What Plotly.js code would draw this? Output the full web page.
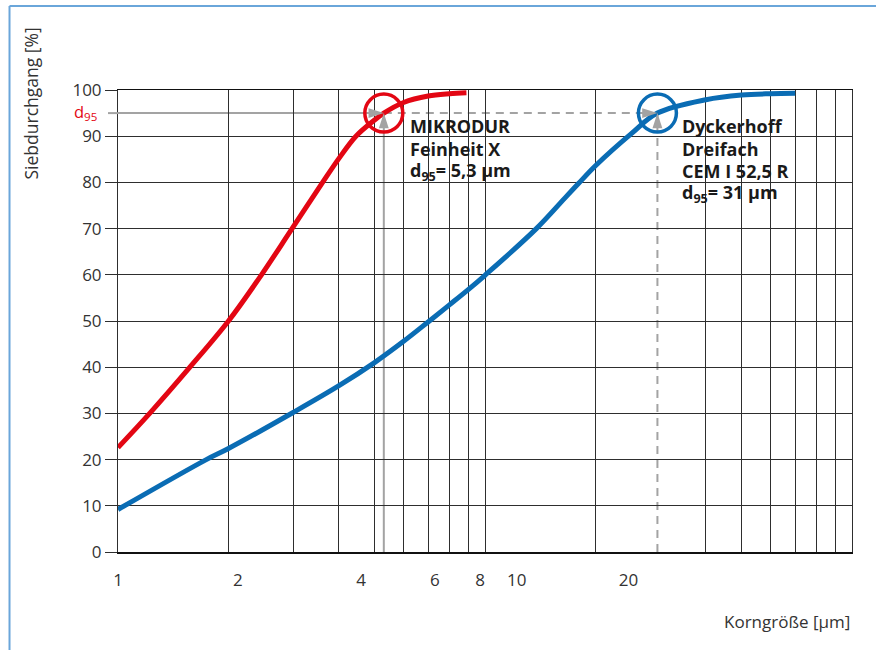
<!DOCTYPE html>
<html>
<head>
<meta charset="utf-8">
<script src="https://cdn.plot.ly/plotly-3.0.1.min.js"></script>
<style>html,body{margin:0;padding:0;background:#fff;}#chart{width:876px;height:650px;}</style>
</head>
<body>
<div id="chart"></div>
<script>
// Korngrößenverteilung (Siebdurchgang über Korngröße)
const mikrodurX = [1, 1.22, 1.57, 2, 2.46, 2.98, 3.61, 4, 4.45, 5, 5.3, 6, 7, 8, 8.9];
const mikrodurY = [22.6, 30, 40, 50, 60, 70, 80, 85.2, 90, 93.5, 95, 97.3, 98.7, 99.2, 99.4];

const cemX = [1, 1.74, 2, 3, 4, 5, 6, 7, 8, 9, 10, 13.8, 16.5, 18, 20, 25, 29.5, 40, 50, 60, 70];
const cemY = [9.2, 20, 22.4, 30.2, 36, 41, 45.6, 49.8, 53.5, 56.8, 59.9, 70, 76.6, 79.8, 83.6, 90.5, 95, 97.9, 98.9, 99.2, 99.3];

const d95Level = 95;
const d95Mikrodur = 5.3;   // drawn position
const d95Cem = 29.5;       // drawn position (label says 31 µm)

const gridVals = [1, 2, 3, 4, 5, 6, 7, 8, 9, 10, 20, 40, 50, 60, 70, 80, 90, 100];
const xLabelPos = [1, 2.12, 4.6, 7.3, 9.7, 12.2, 24.6];
const xLabelText = ['1', '2', '4', '6', '8', '10', '20'];
const yTicks = [0, 10, 20, 30, 40, 50, 60, 70, 80, 90, 100];

const mikrodurLines = ['MIKRODUR', 'Feinheit X', 'd<sub>95</sub>= 5,3 µm'];
const cemLines = ['Dyckerhoff', 'Dreifach', 'CEM I 52,5 R', 'd<sub>95</sub>= 31 µm'];

const RED = '#e30613';
const BLUE = '#0a6cb4';
const GRAY = '#a3a3a3';
const GRID = '#2e2e2e';
const FONT = 'Open Sans, Noto Sans, sans-serif';

const traces = [
  {x: mikrodurX, y: mikrodurY, type: 'scatter', mode: 'lines',
   line: {color: RED, width: 5, shape: 'spline', smoothing: 1}, hoverinfo: 'skip'},
  {x: cemX, y: cemY, type: 'scatter', mode: 'lines',
   line: {color: BLUE, width: 5, shape: 'spline', smoothing: 1}, hoverinfo: 'skip'},
  // arrow heads (tip at the d95 point)
  {x: [d95Mikrodur, d95Mikrodur, d95Cem, d95Cem], y: [d95Level, d95Level, d95Level, d95Level],
   type: 'scatter', mode: 'markers', hoverinfo: 'skip',
   marker: {symbol: 'arrow', size: 16, angle: [90, 0, 90, 0], color: GRAY, line: {width: 0}}},
  // circles
  {x: [d95Mikrodur], y: [d95Level], type: 'scatter', mode: 'markers', hoverinfo: 'skip',
   marker: {symbol: 'circle-open', size: 38, color: RED, line: {color: RED, width: 3.5}}},
  {x: [d95Cem], y: [d95Level], type: 'scatter', mode: 'markers', hoverinfo: 'skip',
   marker: {symbol: 'circle-open', size: 38, color: BLUE, line: {color: BLUE, width: 3.5}}},
  {x: [1, 100], y: [null, null], xaxis: 'x2', type: 'scatter', mode: 'lines', hoverinfo: 'skip', showlegend: false}
];

const shapes = [
  // frame
  {type: 'line', xref: 'paper', yref: 'paper', x0: -0.1478, x1: 1.04, y0: 1.1818, y1: 1.1818, line: {color: '#6aa6da', width: 2}},
  {type: 'line', xref: 'paper', yref: 'paper', x0: -0.1478, x1: -0.1478, y0: 1.1818, y1: -0.22, line: {color: '#6aa6da', width: 2}},
  // d95 guide lines
  {type: 'line', xref: 'paper', yref: 'paper', x0: -0.0136, x1: 0, y0: 0.95, y1: 0.95, line: {color: GRAY, width: 2}},
  {type: 'line', xref: 'x', yref: 'y', x0: 1, x1: d95Mikrodur, y0: d95Level, y1: d95Level, line: {color: GRAY, width: 2}, layer: 'below'},
  {type: 'line', xref: 'x', yref: 'y', x0: d95Mikrodur, x1: d95Cem, y0: d95Level, y1: d95Level, line: {color: GRAY, width: 2, dash: '8px,6px'}, layer: 'below'},
  {type: 'line', xref: 'x', yref: 'y', x0: d95Mikrodur, x1: d95Mikrodur, y0: 0, y1: d95Level, line: {color: GRAY, width: 2}, layer: 'below'},
  {type: 'line', xref: 'x', yref: 'y', x0: d95Cem, x1: d95Cem, y0: 0, y1: d95Level, line: {color: GRAY, width: 2, dash: '8px,6px'}, layer: 'below'}
];

const linePaperY = [0.921, 0.8723, 0.8236, 0.776];

const annotations = [
  {xref: 'paper', yref: 'paper', x: -0.0258, y: 0.953, xanchor: 'right', yanchor: 'middle',
   text: 'd<sub>95</sub>', showarrow: false, font: {family: FONT, size: 16.5, color: RED}},
  {xref: 'paper', yref: 'paper', x: -0.1185, y: 0.9708, xanchor: 'center', yanchor: 'middle', textangle: -90,
   text: 'Siebdurchgang [%]', showarrow: false, font: {family: FONT, size: 17.5, color: '#333'}},
  {xref: 'paper', yref: 'paper', x: 1, y: -0.15, xanchor: 'right', yanchor: 'middle',
   text: 'Korngröße [µm]', showarrow: false, font: {family: FONT, size: 17, color: '#333'}}
];
mikrodurLines.forEach((t, i) => annotations.push({
  xref: 'paper', yref: 'paper', x: 0.395, y: linePaperY[i], xanchor: 'left', yanchor: 'middle',
  text: '<b>' + t + '</b>', showarrow: false, font: {family: FONT, size: 18, color: '#1a1a1a'}}));
cemLines.forEach((t, i) => annotations.push({
  xref: 'paper', yref: 'paper', x: 0.7657, y: linePaperY[i], xanchor: 'left', yanchor: 'middle',
  text: '<b>' + t + '</b>', showarrow: false, font: {family: FONT, size: 18, color: '#1a1a1a'}}));

const layout = {
  width: 876, height: 650,
  margin: {l: 118, r: 24, t: 90, b: 98, pad: 0},
  paper_bgcolor: '#fff', plot_bgcolor: '#fff',
  showlegend: false,
  font: {family: FONT, size: 17, color: '#333'},
  xaxis: {type: 'log', range: [0, 2], tickmode: 'array', tickvals: gridVals, showticklabels: false,
          showgrid: true, gridcolor: GRID, gridwidth: 1, ticks: '', zeroline: false,
          showline: true, mirror: true, linecolor: '#111', linewidth: 1.5, fixedrange: true},
  xaxis2: {type: 'log', range: [0, 2], overlaying: 'x', anchor: 'y', side: 'bottom', tickmode: 'array',
           tickvals: xLabelPos, ticktext: xLabelText, showgrid: false, zeroline: false,
           ticks: 'outside', ticklen: 13, tickcolor: 'rgba(0,0,0,0)',
           tickfont: {family: FONT, size: 17, color: '#333'}, showline: false, fixedrange: true},
  yaxis: {range: [0, 100], tickmode: 'array', tickvals: yTicks, showgrid: true, gridcolor: GRID, gridwidth: 1,
          ticks: 'outside', ticklen: 12, tickcolor: GRID, tickwidth: 1, zeroline: false,
          showline: true, mirror: true, linecolor: GRID, linewidth: 1,
          tickfont: {family: FONT, size: 17, color: '#333'}, fixedrange: true},
  shapes: shapes,
  annotations: annotations
};

Plotly.newPlot('chart', traces, layout, {displayModeBar: false, staticPlot: true});
</script>
</body>
</html>
